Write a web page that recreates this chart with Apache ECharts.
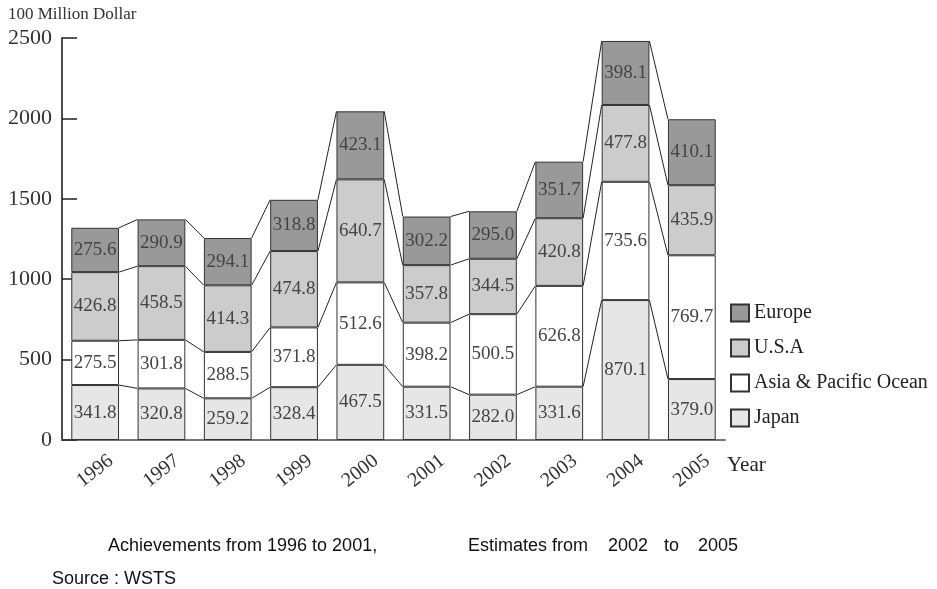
<!DOCTYPE html>
<html>
<head>
<meta charset="utf-8">
<script src="https://cdn.jsdelivr.net/npm/echarts@6/dist/echarts.min.js"></script>
<style>
html,body{margin:0;padding:0;background:#fff;}
#chart{width:937px;height:589px;}
</style>
</head>
<body>
<div id="chart"></div>
<script>
const years = ['1996','1997','1998','1999','2000','2001','2002','2003','2004','2005'];
const japan  = [341.8, 320.8, 259.2, 328.4, 467.5, 331.5, 282.0, 331.6, 870.1, 379.0];
const asia   = [275.5, 301.8, 288.5, 371.8, 512.6, 398.2, 500.5, 626.8, 735.6, 769.7];
const usa    = [426.8, 458.5, 414.3, 474.8, 640.7, 357.8, 344.5, 420.8, 477.8, 435.9];
const europe = [275.6, 290.9, 294.1, 318.8, 423.1, 302.2, 295.0, 351.7, 398.1, 410.1];
const yTicks = [0, 500, 1000, 1500, 2000, 2500];
const legendOrder = ['Europe', 'U.S.A', 'Asia & Pacific Ocean', 'Japan'];

const BAR_RATIO = 0.72;
const SERIF = '"Liberation Serif", "DejaVu Serif", serif';
const SANS = '"Liberation Sans", Arial, sans-serif';

// cumulative tops of each stack level per year
const tops = years.map((_, i) => {
  let s = 0;
  return [japan[i], asia[i], usa[i], europe[i]].map(v => (s += v));
});
const linkData = years.slice(0, -1).map((_, i) => [i].concat(tops[i], tops[i + 1]));

const labelCfg = {
  show: true,
  position: 'inside',
  fontFamily: SERIF,
  fontSize: 19,
  color: '#444',
  formatter: p => Number(p.value).toFixed(1)
};

function barSeries(name, data, color) {
  return {
    name, type: 'bar', stack: 'total', data,
    barWidth: (BAR_RATIO * 100) + '%',
    itemStyle: { color, borderColor: '#333', borderWidth: 1 },
    label: labelCfg,
    emphasis: { disabled: true },
    z: 2
  };
}

const footStyle = { fontFamily: SANS, fontSize: 18, fill: '#111' };

const chart = echarts.init(document.getElementById('chart'), null, { renderer: 'canvas' });
chart.setOption({
  animation: false,
  title: {
    text: '100 Million Dollar', left: 3, top: 1,
    textStyle: { fontFamily: SERIF, fontSize: 17, fontWeight: 'normal', color: '#333' }
  },
  legend: {
    data: legendOrder,
    orient: 'vertical',
    left: 725, top: 298,
    itemWidth: 18, itemHeight: 17, itemGap: 15,
    icon: 'rect',
    textStyle: { fontFamily: SERIF, fontSize: 20, color: '#222' },
    selectedMode: false
  },
  grid: { left: 62, right: 212, top: 38, bottom: 149, containLabel: false },
  xAxis: {
    type: 'category',
    data: years,
    name: 'Year',
    nameLocation: 'end',
    nameGap: 2,
    nameTextStyle: { fontFamily: SERIF, fontSize: 21, color: '#222', verticalAlign: 'top', align: 'left', padding: [15, 0, 0, 0] },
    axisLine: { lineStyle: { color: '#777', width: 2 } },
    axisTick: { show: false },
    axisLabel: {
      rotate: 38, margin: 31, align: 'center', verticalAlign: 'middle',
      fontFamily: SERIF, fontSize: 20, color: '#333'
    }
  },
  yAxis: {
    type: 'value',
    min: yTicks[0], max: yTicks[yTicks.length - 1], interval: 500,
    axisLine: { show: true, lineStyle: { color: '#111', width: 1.5 } },
    axisTick: { show: true, inside: true, length: 15, lineStyle: { color: '#222', width: 1.5 } },
    axisLabel: { margin: 10, fontFamily: SERIF, fontSize: 22, color: '#333', formatter: v => String(v) },
    splitLine: { show: false }
  },
  series: [
    barSeries('Japan', japan, '#e6e6e6'),
    barSeries('Asia & Pacific Ocean', asia, '#ffffff'),
    barSeries('U.S.A', usa, '#cccccc'),
    barSeries('Europe', europe, '#999999'),
    {
      type: 'custom',
      name: 'links',
      silent: true,
      z: 1,
      encode: { x: 0, y: [1, 2, 3, 4, 5, 6, 7, 8] },
      data: linkData,
      renderItem: function (params, api) {
        const i = api.value(0);
        const bw = api.size([1, 0])[0] * BAR_RATIO;
        const children = [];
        for (let k = 0; k < 4; k++) {
          const p1 = api.coord([i, api.value(1 + k)]);
          const p2 = api.coord([i + 1, api.value(5 + k)]);
          children.push({
            type: 'line',
            shape: { x1: p1[0] + bw / 2, y1: p1[1], x2: p2[0] - bw / 2, y2: p2[1] },
            style: { stroke: '#222', lineWidth: 1 }
          });
        }
        return { type: 'group', children };
      }
    }
  ],
  graphic: [
    { type: 'text', left: 108, top: 537, style: Object.assign({ text: 'Achievements from 1996 to 2001,' }, footStyle) },
    { type: 'text', left: 468, top: 537, style: Object.assign({ text: 'Estimates from' }, footStyle) },
    { type: 'text', left: 608, top: 537, style: Object.assign({ text: '2002' }, footStyle) },
    { type: 'text', left: 664, top: 537, style: Object.assign({ text: 'to' }, footStyle) },
    { type: 'text', left: 698, top: 537, style: Object.assign({ text: '2005' }, footStyle) },
    { type: 'text', left: 52, top: 570, style: Object.assign({ text: 'Source : WSTS' }, footStyle) }
  ]
});
</script>
</body>
</html>
